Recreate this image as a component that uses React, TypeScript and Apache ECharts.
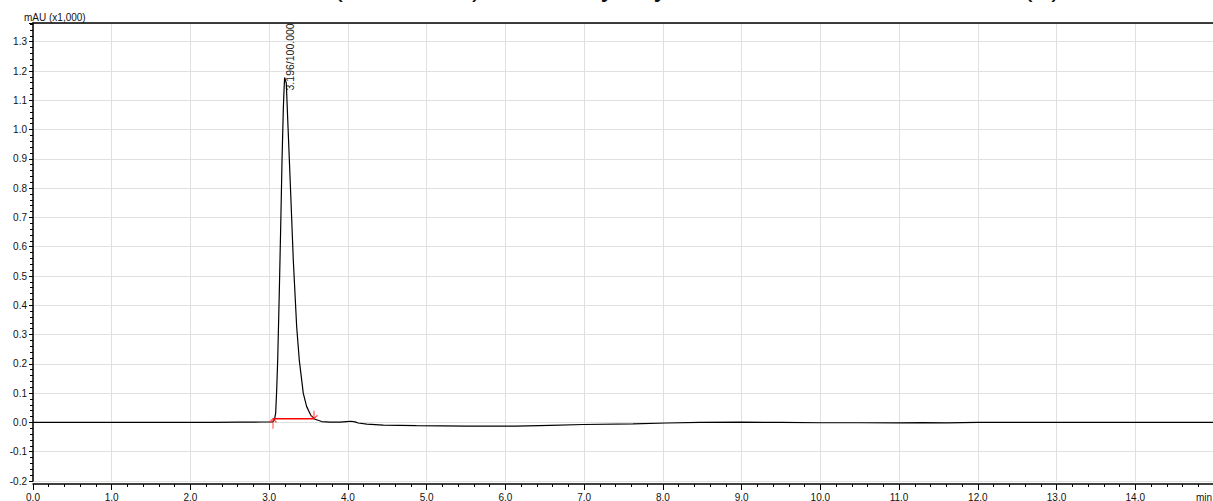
import { useEffect, useRef } from 'react';
import * as echarts from 'echarts';

// Chromatogram trace (time in min, signal in mAU x1,000)
const times = [0, 0.5, 1.0, 1.5, 2.0, 2.3, 2.6, 2.9, 3.0, 3.044, 3.065, 3.082, 3.095, 3.108, 3.128, 3.146, 3.163, 3.179, 3.189, 3.196, 3.205, 3.217, 3.239, 3.273, 3.306, 3.349, 3.382, 3.433, 3.476, 3.527, 3.582, 3.667, 3.772, 3.9, 3.98, 4.04, 4.09, 4.13, 4.24, 4.45, 4.87, 5.51, 6.14, 6.57, 6.99, 7.62, 8.05, 8.47, 9.0, 9.5, 10.0, 10.5, 11.0, 11.3, 11.6, 12.0, 12.5, 13.0, 13.5, 14.0, 14.5, 15.0];
const signal = [0, 0, 0, 0, 0, 0.0005, 0.001, 0.0015, 0.0015, 0.002, 0.008, 0.031, 0.11, 0.213, 0.441, 0.668, 0.896, 1.067, 1.14, 1.178, 1.17, 1.159, 1.01, 0.782, 0.555, 0.327, 0.213, 0.099, 0.054, 0.025, 0.011, 0.003, 0.001, 0.001, 0.003, 0.004, 0.002, -0.002, -0.006, -0.009, -0.011, -0.0125, -0.0125, -0.01, -0.007, -0.005, -0.002, 0.0005, 0.001, 0, -0.001, -0.001, -0.0015, -0.0005, -0.0015, 0, 0, 0, 0, 0, 0, 0];

// Integration baseline (peak start / end)
const baselineTimes = [3.048, 3.569];
const baselineLevels = [0.0126, 0.0126];

// Peak annotation
const peakTime = 3.196;
const peakHeight = 1.178;
const peakLabel = '3.196/100.000';

const yUnitLabel = 'mAU (x1,000)';
const xUnitLabel = 'min';
const titleText = 'Standard Solution (Reference) Sensitivity / by Method Validation Test Run (A)';

const FONT = '"Liberation Sans", Arial, sans-serif';

export default function App() {
  const ref = useRef<HTMLDivElement>(null);

  useEffect(() => {
    const chart = echarts.init(ref.current as HTMLDivElement, undefined, { renderer: 'svg' });
    const option: any = {
      animation: false,
      grid: { left: 33, right: -1, top: 23, bottom: 20, outerBoundsMode: 'none' },
      xAxis: [
        {
          type: 'value',
          min: 0,
          max: 15,
          interval: 1,
          position: 'bottom',
          offset: 3,
          axisLine: { onZero: false, lineStyle: { color: '#000', width: 1.5 } },
          axisTick: { length: 6, lineStyle: { color: '#000' } },
          minorTick: { show: true, splitNumber: 5, length: 3, lineStyle: { color: '#000' } },
          axisLabel: {
            formatter: (v: number) => v.toFixed(1),
            fontSize: 10,
            color: '#111',
            fontFamily: FONT,
            margin: 8,
            showMaxLabel: false,
          },
          splitLine: { show: true, lineStyle: { color: '#e0e0e0', width: 1 } },
        },
        {
          type: 'value',
          min: 0,
          max: 15,
          position: 'top',
          axisLine: { show: true, onZero: false, lineStyle: { color: '#000', width: 1.5 } },
          axisTick: { show: false },
          axisLabel: { show: false },
          splitLine: { show: false },
        },
      ],
      yAxis: {
        type: 'value',
        min: -0.2,
        max: 1.364,
        interval: 0.1,
        axisLine: { show: true, onZero: false, lineStyle: { color: '#000', width: 1.5 } },
        axisTick: { show: true, length: 4, lineStyle: { color: '#000' } },
        minorTick: { show: true, splitNumber: 5, length: 3, lineStyle: { color: '#000' } },
        axisLabel: {
          formatter: (v: number) => v.toFixed(1),
          fontSize: 10,
          color: '#111',
          fontFamily: FONT,
          margin: 6,
          showMaxLabel: false,
        },
        splitLine: { show: true, lineStyle: { color: '#e0e0e0', width: 1 } },
      },
      series: [
        {
          type: 'line',
          data: times.map((t, i) => [t, signal[i]]),
          symbol: 'none',
          lineStyle: { color: '#000', width: 1.2 },
          z: 3,
        },
        {
          type: 'line',
          data: baselineTimes.map((t, i) => [t, baselineLevels[i]]),
          symbol: 'none',
          lineStyle: { color: '#ff0000', width: 1.5 },
          z: 4,
        },
        {
          type: 'scatter',
          z: 5,
          itemStyle: { color: 'rgba(0,0,0,0)', borderColor: '#ff2020', borderWidth: 1.2 },
          data: [
            {
              value: [baselineTimes[0], baselineLevels[0]],
              symbol: 'path://M5,0 L5,11 M1,4 L5,0 L9,4',
              symbolSize: [7, 10],
              symbolOffset: [0, 5],
            },
            {
              value: [baselineTimes[1], baselineLevels[1]],
              symbol: 'path://M5,0 L5,9 M1,5 L5,9 L9,5',
              symbolSize: [7, 8],
              symbolOffset: [0, -4],
            },
          ],
        },
      ],
    };
    chart.setOption(option);

    const apex = chart.convertToPixel({ gridIndex: 0 }, [peakTime, peakHeight]) as number[];
    chart.setOption({
      graphic: [
        {
          type: 'text',
          x: apex[0] + 5,
          y: apex[1] + 13,
          rotation: Math.PI / 2,
          style: {
            text: peakLabel,
            fontSize: 10.5,
            fontFamily: FONT,
            fill: '#222',
            align: 'left',
            verticalAlign: 'middle',
          },
        },
        {
          type: 'text',
          x: 24,
          y: 17,
          style: {
            text: yUnitLabel,
            fontSize: 10,
            fontFamily: FONT,
            fill: '#111',
            align: 'left',
            verticalAlign: 'middle',
          },
        },
        {
          type: 'text',
          x: 1196,
          y: 497,
          style: {
            text: xUnitLabel,
            fontSize: 10,
            fontFamily: FONT,
            fill: '#111',
            align: 'left',
            verticalAlign: 'middle',
          },
        },
        {
          type: 'text',
          x: 103,
          y: -14,
          style: {
            text: titleText,
            fontSize: 28,
            fontFamily: FONT,
            fill: '#111',
            align: 'left',
            verticalAlign: 'middle',
          },
        },
      ],
    });

    return () => {
      chart.dispose();
    };
  }, []);

  return (
    <div
      ref={ref}
      style={{ position: 'absolute', left: 0, top: 0, width: 1213, height: 501 }}
    />
  );
}
